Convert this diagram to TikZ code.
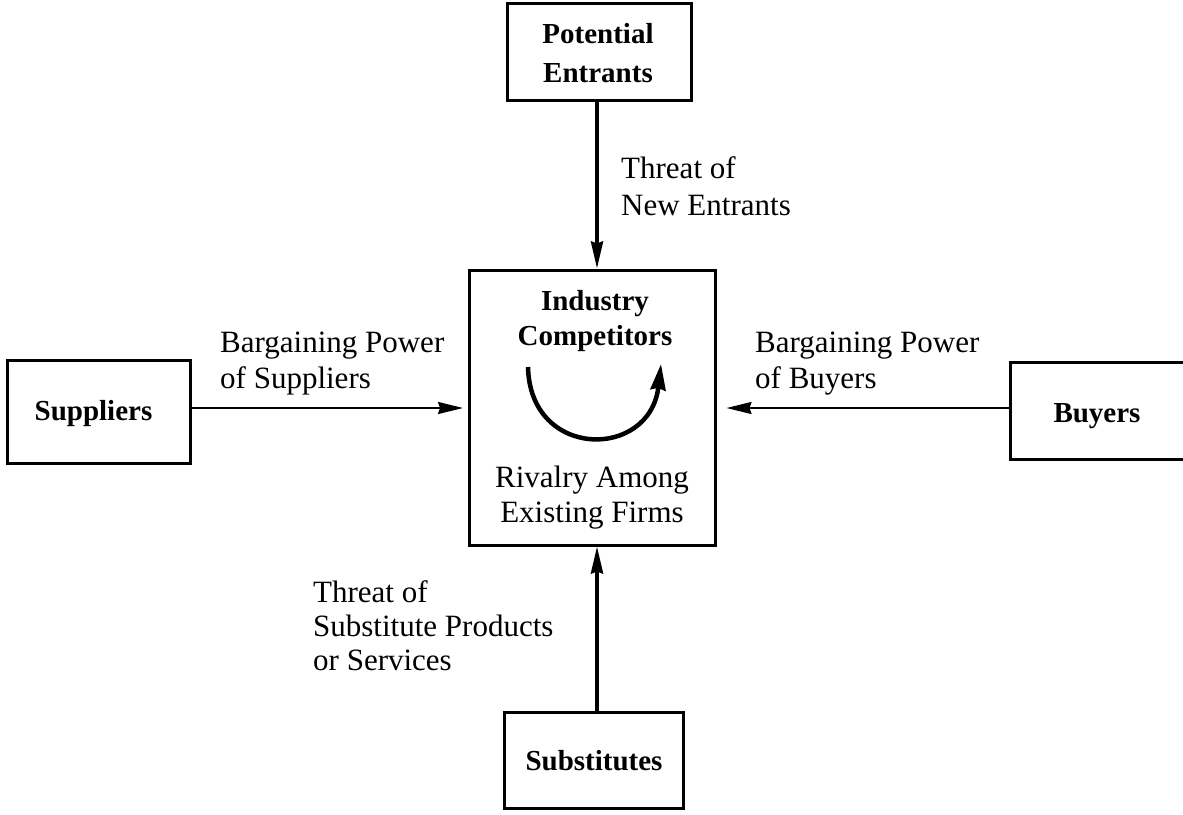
\documentclass[tikz,border=0pt]{standalone}
\usepackage{fontspec}
\setmainfont{Liberation Serif}
\usetikzlibrary{arrows.meta}
\begin{document}
\begin{tikzpicture}[x=1pt,y=-1pt,
  box/.style={draw, line width=3pt, inner sep=0pt},
  lbl/.style={font=\fontsize{31}{36}\selectfont, align=left, inner sep=0pt, anchor=base west},
  mid/.style={font=\fontsize{31}{35}\selectfont, align=center, inner sep=0pt, anchor=base},
  bold/.style={font=\fontsize{29}{36}\selectfont\bfseries, align=center, inner sep=0pt, anchor=base},
  vert arr/.style={line width=3.5pt, -{Stealth[length=27pt,width=12pt,inset=2pt]}},
  horiz arr/.style={line width=2pt, -{Stealth[length=25pt,width=12pt,inset=2pt]}},
  curve arr/.style={line width=4.5pt, -{Stealth[length=26pt,width=15pt,inset=2pt]}}]
\useasboundingbox (0,0) rectangle (1183,814);

% boxes
\node[box, minimum width=184pt, minimum height=97pt] (pe) at (599,51.5) {};
\node[box, minimum width=246pt, minimum height=275pt] (comp) at (592,407.5) {};
\node[box, minimum width=183pt, minimum height=103pt] (sup) at (98.5,411.5) {};
\node[box, minimum width=182pt, minimum height=97pt] (buy) at (1101,410.5) {};
\node[box, minimum width=179pt, minimum height=96pt] (sub) at (593.5,760) {};

% box texts (base anchor = baseline of the last line)
\node[bold, font=\fontsize{29}{39}\selectfont\bfseries] (peT) at (598,82) {Potential\\Entrants};
\node[bold, font=\fontsize{29}{35}\selectfont\bfseries] (compT) at (595,345) {Industry\\Competitors};
\node[mid] (rivT) at (592,522) {Rivalry Among\\Existing Firms};
\node[bold] (supT) at (93.5,420) {Suppliers};
\node[bold] (buyT) at (1097,422) {Buyers};
\node[bold] (subT) at (594,770) {Substitutes};

% connectors
\coordinate (vx) at (597,0);
\coordinate (hy) at (0,408);
\draw[vert arr] (pe.south -| vx) -- (comp.north -| vx);
\draw[vert arr] (sub.north -| vx) -- (comp.south -| vx);
\draw[horiz arr] (sup.east |- hy) -- ([xshift=-4.5pt]comp.west |- hy);
\draw[horiz arr] (buy.west |- hy) -- ([xshift=10pt]comp.east |- hy);

% rivalry curve
\draw[curve arr] (528,367) .. controls (530,460) and (650,460) .. (661,364);

% labels
\node[lbl, font=\fontsize{31}{37}\selectfont] (newT) at (621,215) {Threat of\\New Entrants};
\node[lbl] (supL) at (220,388) {Bargaining Power\\of Suppliers};
\node[lbl] (buyL) at (755,388) {Bargaining Power\\of Buyers};
\node[lbl, font=\fontsize{31}{34}\selectfont] (subL) at (313,670) {Threat of\\Substitute Products\\or Services};
\end{tikzpicture}
\end{document}
